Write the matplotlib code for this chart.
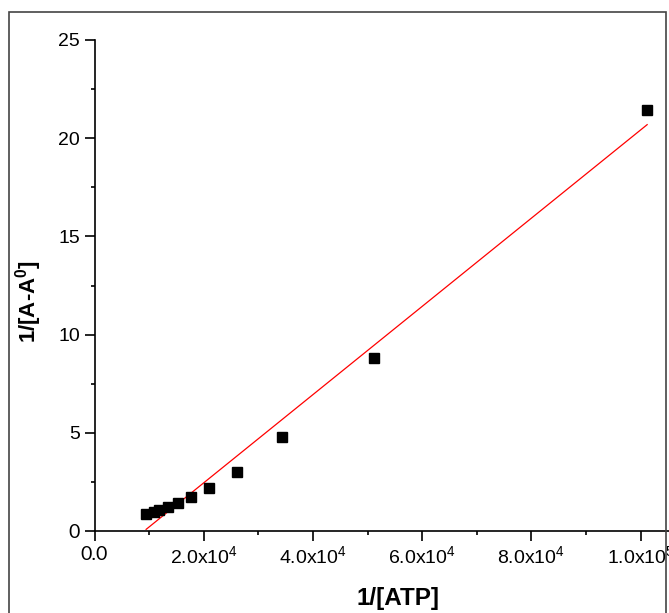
import numpy as np
import matplotlib
matplotlib.use('Agg')
import matplotlib.pyplot as plt
from matplotlib.patches import Rectangle
from matplotlib.ticker import MultipleLocator, FuncFormatter

plt.rcParams['font.family'] = ['Liberation Sans', 'DejaVu Sans']
plt.rcParams['mathtext.default'] = 'regular'

# 1/[ATP] and 1/[A-A0]
inv_atp = [9450, 10900, 11900, 13400, 15300, 17700, 21000, 26100, 34400, 51100, 101200]
inv_abs = [0.87, 0.98, 1.07, 1.21, 1.41, 1.72, 2.20, 2.99, 4.77, 8.82, 21.45]

# red fit line
fit_slope = 2.246e-4
fit_intercept = -2.04

fig = plt.figure(figsize=(6.69, 6.13), dpi=100)
ax = fig.add_axes([94.5 / 669, 82 / 613, 1 - 94.5 / 669, 491 / 613])

ax.plot(inv_atp, inv_abs, 's', color='black', markersize=7.5, clip_on=False, zorder=3)
xfit = np.array([min(inv_atp), max(inv_atp)])
ax.plot(xfit, fit_slope * xfit + fit_intercept, '-', color='red', lw=0.9)

ax.set_xlim(0, 105200)
ax.set_ylim(0, 25)
ax.spines['top'].set_visible(False)
ax.spines['right'].set_visible(False)
for s in ['left', 'bottom']:
    ax.spines[s].set_linewidth(1.2)

ax.xaxis.set_major_locator(MultipleLocator(20000))
ax.xaxis.set_minor_locator(MultipleLocator(10000))
ax.yaxis.set_major_locator(MultipleLocator(5))
ax.yaxis.set_minor_locator(MultipleLocator(2.5))


def xfmt(v, pos):
    if abs(v) < 1e-9:
        return '0.0'
    if v < 0:
        return ''
    e = int(np.floor(np.log10(v)))
    m = v / 10 ** e
    return f'{m:.1f}x10$^{{{e}}}$'


ax.xaxis.set_major_formatter(FuncFormatter(xfmt))
ax.yaxis.set_major_formatter(FuncFormatter(lambda v, p: f'{int(round(v))}'))
ax.tick_params(which='major', direction='out', length=7, width=1.2, labelsize=14, pad=3.5)
ax.tick_params(which='minor', direction='out', length=3, width=1.2)

ax.set_xlabel('1/[ATP]', fontsize=17.5, fontweight='bold', va='center')
ax.set_ylabel('1/[A-A$^0$]', fontsize=16, fontweight='bold', va='center')
ax.xaxis.set_label_coords((398 - 94.5) / 574.5, (531 - 599) / 491)
ax.yaxis.set_label_coords((29 - 94.5) / 574.5, (531 - 301) / 491)

# the zero labels are set in another face in the original
fig.canvas.draw()
for lab in ax.get_xticklabels() + ax.get_yticklabels():
    if lab.get_text() in ('0', '0.0'):
        lab.set_fontfamily('Lato')

# outer frame
fig.patches.append(Rectangle((9 / 669, -0.05), 657 / 669, 1.05 - 12 / 613,
                             transform=fig.transFigure, fill=False,
                             edgecolor='#444444', lw=1.2))

fig.savefig('out.png', dpi=100)
